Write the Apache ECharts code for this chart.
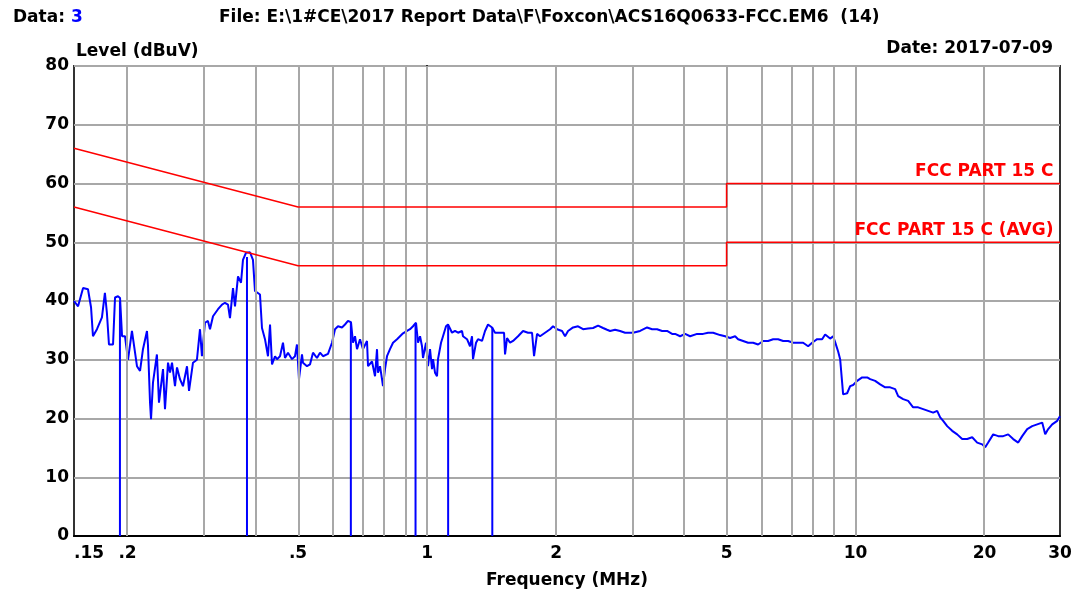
<!DOCTYPE html>
<html>
<head>
<meta charset="utf-8">
<title>EMI conducted scan</title>
<script src="https://cdn.jsdelivr.net/npm/echarts@6/dist/echarts.min.js"></script>
<style>
  html, body { margin: 0; padding: 0; background: #fff; }
  #chart { width: 1080px; height: 594px; }
</style>
</head>
<body>
<div id="chart"></div>
<script>
const traceFreq = [
  0.150, 0.1533, 0.1575, 0.1617, 0.1644, 0.1661, 0.1697, 0.1743, 0.1771, 0.1790,
  0.1810, 0.1850, 0.1870, 0.1900, 0.1921, 0.1942, 0.1973, 0.2005, 0.2048, 0.2104,
  0.2139, 0.2173, 0.2220, 0.2232, 0.2257, 0.2269, 0.2293, 0.2342, 0.2368, 0.2420,
  0.2446, 0.2486, 0.2513, 0.2540, 0.2581, 0.2609, 0.2651, 0.2694, 0.2753, 0.2783,
  0.2843, 0.2904, 0.2952, 0.2983, 0.3032, 0.3081, 0.3115, 0.3166, 0.3252, 0.3323,
  0.3376, 0.3431, 0.3468, 0.3525, 0.3563, 0.3621, 0.3680, 0.3719, 0.3779, 0.3862,
  0.3924, 0.3967, 0.4075, 0.4119, 0.4186, 0.4254, 0.4301, 0.4347, 0.4418, 0.4465,
  0.4538, 0.4611, 0.4661, 0.4737, 0.4840, 0.4918, 0.4971, 0.5025, 0.5107, 0.5134,
  0.5246, 0.5331, 0.5418, 0.5535, 0.5626, 0.5717, 0.5873, 0.6000, 0.6098, 0.6197,
  0.6331, 0.6434, 0.6539, 0.6645, 0.6717, 0.6790, 0.6864, 0.6975, 0.7088, 0.7242,
  0.7282, 0.7440, 0.7561, 0.7642, 0.7683, 0.7767, 0.7850, 0.7892, 0.7978, 0.8064,
  0.8195, 0.8329, 0.8510, 0.8649, 0.8789, 0.8979, 0.9126, 0.9274, 0.9425, 0.9526,
  0.9630, 0.9733, 0.9786, 0.9945, 1.0052, 1.0161, 1.0271, 1.0326, 1.0438, 1.0550,
  1.0607, 1.0780, 1.0896, 1.1073, 1.1193, 1.1436, 1.1622, 1.1811, 1.2067, 1.2132,
  1.2396, 1.2598, 1.2733, 1.2802, 1.3011, 1.3151, 1.3437, 1.3656, 1.3878, 1.4180,
  1.4410, 1.4644, 1.4962, 1.5125, 1.5206, 1.5370, 1.5621, 1.5874, 1.6306, 1.6750,
  1.7206, 1.7580, 1.7771, 1.8059, 1.8353, 1.8854, 1.9368, 1.9682, 2.0109, 2.0657,
  2.0994, 2.1334, 2.1916, 2.2512, 2.3126, 2.3755, 2.4403, 2.5067, 2.5751, 2.6309,
  2.6739, 2.7467, 2.8216, 2.8984, 2.9773, 3.0255, 3.1418, 3.2620, 3.3510, 3.4422,
  3.5360, 3.6322, 3.7312, 3.7920, 3.8954, 4.0014, 4.1105, 4.2679, 4.4078, 4.5278,
  4.6513, 4.8297, 4.9613, 5.0965, 5.2353, 5.3202, 5.4652, 5.6139, 5.7670, 5.9239,
  6.0854, 6.2510, 6.4215, 6.5963, 6.7761, 6.9606, 7.1502, 7.3449, 7.5449, 7.7505,
  7.9189, 8.1345, 8.3562, 8.4924, 8.7239, 8.8649, 8.9613, 9.1067, 9.2057, 9.3046,
  9.3545, 9.5579, 9.7140, 9.8711, 10.086, 10.361, 10.643, 10.817, 11.111, 11.414,
  11.725, 12.045, 12.372, 12.573, 12.915, 13.267, 13.628, 13.999, 14.381, 14.773,
  15.176, 15.505, 15.758, 16.013, 16.361, 16.807, 17.264, 17.735, 18.219, 18.715,
  19.225, 19.749, 20.070, 20.395, 20.951, 21.521, 22.108, 22.710, 23.329, 23.964,
  24.485, 25.151, 25.836, 26.540, 27.263, 27.707, 28.157, 28.769, 29.552, 30.0
];
const traceLevel = [
  40.0, 39.1, 42.2, 42.0, 38.9, 34.0, 35.2, 37.2, 41.4, 38.0,
  32.6, 32.6, 40.6, 40.8, 40.5, 34.0, 34.0, 30.0, 34.9, 28.9,
  28.1, 31.8, 34.9, 32.5, 22.7, 19.9, 26.1, 30.9, 22.7, 28.4,
  21.6, 29.5, 27.8, 29.5, 25.5, 28.7, 26.7, 25.5, 28.9, 24.7,
  29.5, 30.0, 35.2, 30.6, 36.3, 36.6, 35.2, 37.4, 38.6, 39.4,
  39.7, 39.4, 37.1, 42.2, 39.1, 44.2, 43.1, 47.0, 48.2, 48.3,
  47.0, 41.7, 41.1, 35.4, 33.5, 30.6, 36.0, 29.2, 30.6, 30.1,
  30.6, 32.9, 30.3, 31.2, 30.1, 30.6, 32.6, 26.7, 30.9, 29.5,
  28.9, 29.2, 31.2, 30.3, 31.2, 30.6, 31.0, 32.9, 35.2, 35.7,
  35.5, 36.0, 36.6, 36.4, 32.9, 34.0, 31.8, 33.5, 31.8, 33.2,
  28.9, 29.7, 27.2, 31.8, 27.8, 28.9, 26.7, 25.5, 28.4, 30.6,
  31.8, 32.9, 33.5, 34.0, 34.5, 34.9, 35.2, 35.7, 36.3, 32.9,
  34.0, 32.3, 30.3, 32.9, 28.9, 31.8, 28.4, 30.1, 27.8, 27.2,
  30.1, 32.9, 34.0, 35.7, 36.0, 34.6, 34.9, 34.6, 34.9, 34.0,
  33.5, 32.3, 34.0, 30.1, 32.9, 33.5, 33.2, 34.9, 36.0, 35.5,
  34.6, 34.6, 34.6, 34.6, 30.9, 33.7, 32.9, 33.2, 34.0, 34.9,
  34.6, 34.6, 30.6, 34.4, 34.0, 34.6, 35.2, 35.7, 35.2, 34.9,
  34.0, 34.9, 35.5, 35.7, 35.2, 35.3, 35.4, 35.8, 35.4, 35.1,
  34.9, 35.1, 34.9, 34.6, 34.6, 34.6, 34.9, 35.5, 35.2, 35.2,
  34.9, 34.9, 34.4, 34.4, 34.0, 34.4, 34.0, 34.4, 34.4, 34.6,
  34.6, 34.2, 34.0, 33.7, 34.0, 33.5, 33.2, 32.9, 32.9, 32.6,
  33.2, 33.2, 33.5, 33.5, 33.2, 33.2, 32.9, 32.9, 32.9, 32.3,
  32.9, 33.5, 33.5, 34.3, 33.6, 34.0, 33.0, 31.4, 30.1, 26.1,
  24.1, 24.3, 25.5, 25.7, 26.4, 27.0, 27.0, 26.7, 26.4, 25.8,
  25.3, 25.3, 25.0, 23.8, 23.3, 23.0, 21.9, 21.9, 21.6, 21.3,
  21.0, 21.3, 20.2, 19.6, 18.7, 17.9, 17.3, 16.5, 16.5, 16.8,
  15.9, 15.6, 15.1, 15.9, 17.3, 17.0, 17.0, 17.3, 16.5, 15.9,
  17.0, 18.2, 18.7, 19.0, 19.3, 17.3, 18.2, 19.0, 19.6, 20.4
];

// final measurement markers
const markFreq = [0.192, 0.380, 0.664, 0.940, 1.12, 1.42];
const markLevel = [40.0, 47.5, 36.4, 36.0, 35.8, 35.5];

// FCC part 15 C limits
const limitFreq = [0.15, 0.5, 5, 5, 30];
const limitQP = [66, 56, 56, 60, 60];
const limitAVG = [56, 46, 46, 50, 50];

// axis helpers
const gridFreq = [0.2, 0.3, 0.4, 0.5, 0.6, 0.7, 0.8, 0.9, 1, 2, 3, 4, 5, 6, 7, 8, 9, 10, 20];
const tickFreq = [0.15, 0.2, 0.5, 1, 2, 5, 10, 20, 30];

const lg = v => Math.log10(v);
const FONT = 'DejaVu Sans';
const txt = { fontFamily: FONT, fontWeight: 'bold', fontSize: 17, color: '#000' };

function pairs(fs, vs) {
  return fs.map((f, i) => [lg(f), vs[i]]);
}

function limitLabel(name, lastVal) {
  return {
    silent: true,
    symbol: 'circle',
    symbolSize: 1,
    itemStyle: { color: 'rgba(0,0,0,0)' },
    label: {
      show: true,
      position: 'left',
      distance: 6,
      offset: [0, -12],
      formatter: name,
      fontFamily: FONT,
      fontWeight: 'bold',
      fontSize: 17,
      color: '#ff0000'
    },
    data: [{ coord: [lg(30), lastVal] }]
  };
}

let chart = echarts.init(document.getElementById('chart'));
chart.setOption({
  animation: false,
  title: [
    {
      text: 'Data: {v|3}',
      left: 8, top: 4,
      textStyle: Object.assign({}, txt, {
        rich: { v: { fontFamily: FONT, fontWeight: 'bold', fontSize: 17, color: '#0000ff' } }
      })
    },
    {
      text: 'File: E:\\1#CE\\2017 Report Data\\F\\Foxcon\\ACS16Q0633-FCC.EM6  (14)',
      left: 214, top: 4,
      textStyle: txt
    },
    {
      text: 'Date: 2017-07-09',
      right: 22, top: 35,
      textStyle: txt
    },
    {
      // y axis caption sits left-aligned on top of the plot
      text: 'Level (dBuV)',
      left: 71, top: 38,
      textStyle: txt
    }
  ],
  grid: {
    left: 74, right: 20, top: 66, bottom: 57,
    show: true, borderColor: '#333', borderWidth: 2
  },
  xAxis: {
    type: 'value',
    min: lg(0.15),
    max: lg(30),
    name: 'Frequency (MHz)',
    nameLocation: 'middle',
    nameGap: 36,
    nameTextStyle: txt,
    axisLine: { lineStyle: { color: '#000', width: 2 } },
    axisTick: { show: false },
    splitLine: { show: false },
    axisLabel: Object.assign({}, txt, {
      customValues: tickFreq.map(lg),
      margin: 9,
      alignMinLabel: 'left',
      formatter: v => {
        let f = Math.round(Math.pow(10, v) * 100) / 100;
        return f < 1 ? String(f).replace(/^0/, '') : String(f);
      }
    })
  },
  yAxis: {
    type: 'value',
    min: 0, max: 80, interval: 10,
    axisLine: { show: true, lineStyle: { color: '#000', width: 2 } },
    axisTick: { show: false },
    axisLabel: Object.assign({}, txt, { margin: 5 }),
    splitLine: { lineStyle: { color: '#a8a8a8', width: 2 } }
  },
  series: [
    {
      // vertical grid lines at the log decades
      name: 'grid',
      type: 'line',
      data: [],
      z: 1,
      markLine: {
        silent: true,
        symbol: ['none', 'none'],
        label: { show: false },
        lineStyle: { color: '#a8a8a8', width: 2, type: 'solid' },
        data: gridFreq.map(f => ({ xAxis: lg(f) }))
      }
    },
    {
      name: 'final',
      type: 'bar',
      barWidth: 2,
      itemStyle: { color: '#0000ff' },
      data: pairs(markFreq, markLevel),
      z: 3
    },
    {
      name: 'scan',
      type: 'line',
      showSymbol: false,
      lineStyle: { color: '#0000ff', width: 2 },
      data: pairs(traceFreq, traceLevel),
      z: 4
    },
    {
      name: 'FCC PART 15 C',
      type: 'line',
      showSymbol: false,
      lineStyle: { color: '#ff0000', width: 1.5 },
      data: pairs(limitFreq, limitQP),
      markPoint: limitLabel('FCC PART 15 C', limitQP[limitQP.length - 1]),
      z: 5
    },
    {
      name: 'FCC PART 15 C (AVG)',
      type: 'line',
      showSymbol: false,
      lineStyle: { color: '#ff0000', width: 1.5 },
      data: pairs(limitFreq, limitAVG),
      markPoint: limitLabel('FCC PART 15 C (AVG)', limitAVG[limitAVG.length - 1]),
      z: 5
    }
  ]
});
</script>
</body>
</html>
